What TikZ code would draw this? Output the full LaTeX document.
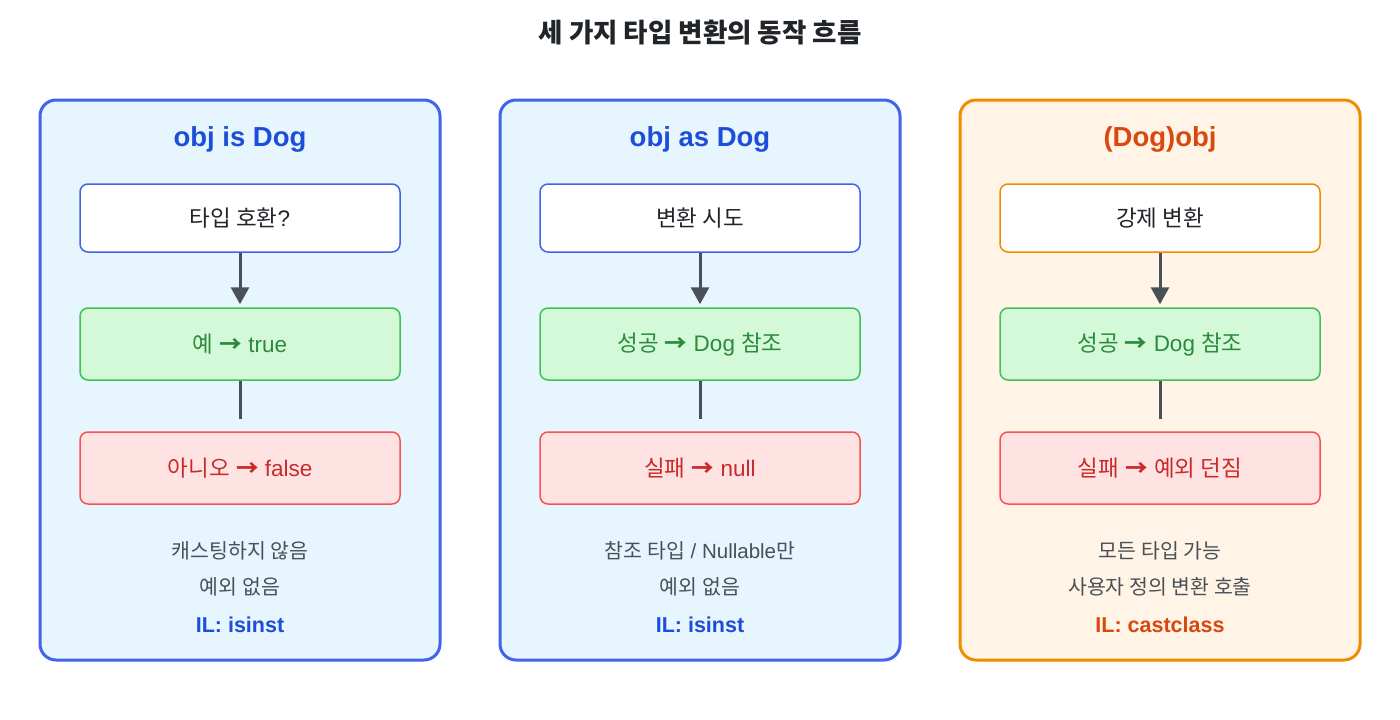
\documentclass[tikz,border=0pt]{standalone}
\usepackage{fontspec}
\setmainfont{Liberation Sans}
\newfontfamily\kr{Noto Sans CJK KR}
\usepackage{tikz}
\usetikzlibrary{arrows.meta}

\definecolor{panelblue}{HTML}{E7F5FF}
\definecolor{edgeblue}{HTML}{4263EB}
\definecolor{headblue}{HTML}{1D4ED8}
\definecolor{panelorange}{HTML}{FFF4E6}
\definecolor{edgeorange}{HTML}{F08C00}
\definecolor{headorange}{HTML}{D9480F}
\definecolor{okfill}{HTML}{D3F9D8}
\definecolor{okedge}{HTML}{40C057}
\definecolor{oktext}{HTML}{2B8A3E}
\definecolor{nofill}{HTML}{FFE3E3}
\definecolor{noedge}{HTML}{FA5252}
\definecolor{notext}{HTML}{C92A2A}
\definecolor{flowgray}{HTML}{495057}
\definecolor{inkgray}{HTML}{212529}

\newcommand{\ra}{{\kr\bfseries →}}

\begin{document}
\begin{tikzpicture}[
            x=1pt, y=-1pt,
            panel/.style={draw, line width=3pt, rounded corners=16pt, minimum width=400pt, minimum height=560pt},
            panel title/.style={font=\fontsize{27.5}{32}\selectfont\bfseries},
            stepbox/.style={draw, line width=1.5pt, rounded corners=8pt, minimum width=320pt, text=inkgray, font=\fontsize{22.5}{26}\selectfont},
            askbox/.style={stepbox, fill=white, minimum height=68pt},
            okbox/.style={stepbox, fill=okfill, draw=okedge, text=oktext, minimum height=72pt},
            nobox/.style={stepbox, fill=nofill, draw=noedge, text=notext, minimum height=72pt},
            note/.style={text=flowgray, font=\fontsize{20.5}{24}\selectfont},
            ilnote/.style={font=\fontsize{21.5}{25}\selectfont\bfseries},
            flow/.style={draw=flowgray, line width=3pt},
            ]
            \useasboundingbox (0,0) rectangle (1400,720);
            \node[text=inkgray, font=\fontsize{26.5}{30}\selectfont\bfseries\kr] (title) at (700,33) {세 가지 타입 변환의 동작 흐름};

            % is
            \node[panel, draw=edgeblue, fill=panelblue] (isPanel) at (240,380) {};
            \node[panel title, text=headblue] (isTitle) at (240,139) {obj is Dog};
            \node[askbox, draw=edgeblue] (isAsk) at (240,218) {{\kr 타입 호환}?};
            \node[okbox] (isOk) at (240,344) {{\kr 예} \ra{} true};
            \node[nobox] (isNo) at (240,468) {{\kr 아니오} \ra{} false};
            \node[note] (isNote1) at (240,551) {\kr 캐스팅하지 않음};
            \node[note] (isNote2) at (240,587) {\kr 예외 없음};
            \node[ilnote, text=headblue] (isIL) at (240,625) {IL: isinst};
            \draw[flow, -{Triangle[width=18pt,length=17pt]}] (isAsk.south) -- ([yshift=3pt]isOk.north);
            \draw[flow] (isOk.south) -- ([yshift=12pt]isNo.north);

            % as
            \node[panel, draw=edgeblue, fill=panelblue] (asPanel) at (700,380) {};
            \node[panel title, text=headblue] (asTitle) at (700,139) {obj as Dog};
            \node[askbox, draw=edgeblue] (asAsk) at (700,218) {\kr 변환 시도};
            \node[okbox] (asOk) at (700,344) {{\kr 성공} \ra{} Dog {\kr 참조}};
            \node[nobox] (asNo) at (700,468) {{\kr 실패} \ra{} null};
            \node[note] (asNote1) at (700,551) {{\kr 참조 타입} / Nullable{\kr 만}};
            \node[note] (asNote2) at (700,587) {\kr 예외 없음};
            \node[ilnote, text=headblue] (asIL) at (700,625) {IL: isinst};
            \draw[flow, -{Triangle[width=18pt,length=17pt]}] (asAsk.south) -- ([yshift=3pt]asOk.north);
            \draw[flow] (asOk.south) -- ([yshift=12pt]asNo.north);

            % cast
            \node[panel, draw=edgeorange, fill=panelorange] (castPanel) at (1160,380) {};
            \node[panel title, text=headorange] (castTitle) at (1160,139) {(Dog)obj};
            \node[askbox, draw=edgeorange] (castAsk) at (1160,218) {\kr 강제 변환};
            \node[okbox] (castOk) at (1160,344) {{\kr 성공} \ra{} Dog {\kr 참조}};
            \node[nobox] (castNo) at (1160,468) {{\kr 실패} \ra{} {\kr 예외 던짐}};
            \node[note] (castNote1) at (1160,551) {\kr 모든 타입 가능};
            \node[note] (castNote2) at (1160,587) {\kr 사용자 정의 변환 호출};
            \node[ilnote, text=headorange] (castIL) at (1160,625) {IL: castclass};
            \draw[flow, -{Triangle[width=18pt,length=17pt]}] (castAsk.south) -- ([yshift=3pt]castOk.north);
            \draw[flow] (castOk.south) -- ([yshift=12pt]castNo.north);
        \end{tikzpicture}
\end{document}
